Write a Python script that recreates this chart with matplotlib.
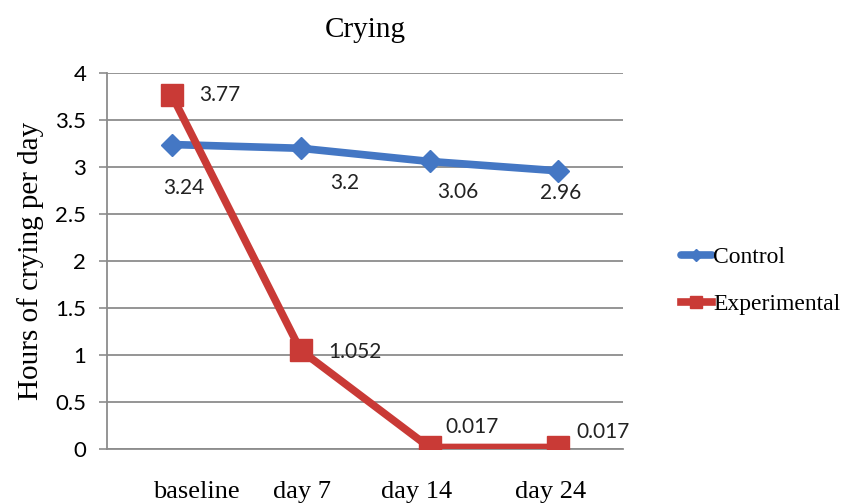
import numpy as np
import matplotlib.pyplot as plt
from matplotlib.transforms import ScaledTranslation

# data
days = ['baseline', 'day 7', 'day 14', 'day 24']
control = [3.24, 3.2, 3.06, 2.96]
experimental = [3.77, 1.052, 0.017, 0.017]
control_txt = ['3.24', '3.2', '3.06', '2.96']
experimental_txt = ['3.77', '1.052', '0.017', '0.017']

blue = '#4477c4'
red = '#c93a36'
grid = '#8c8c8c'
serif = 'Liberation Serif'
sans = 'Lato'

fig = plt.figure(figsize=(8.46, 5.04), dpi=100)
ax = fig.add_axes([0.1265, 0.109, 0.6099, 0.746])

x = np.arange(len(days))
ax.plot(x, control, color=blue, lw=5.5, marker='D', ms=11, label='Control',
        solid_capstyle='round', zorder=3)
ax.plot(x, experimental, color=red, lw=5.5, marker='s', ms=16, label='Experimental',
        zorder=4)

# data labels (offsets in pixels)
c_off = [(12, -43), (44, -35), (28, -31), (2, -22)]
e_off = [(48, 0), (54, -2), (43, 20), (45, 15)]
for i in range(len(days)):
    ax.annotate(control_txt[i], (x[i], control[i]), xytext=c_off[i],
                textcoords='offset pixels', ha='center', va='center',
                fontsize=15, family=sans, color='#222222', zorder=5)
    ax.annotate(experimental_txt[i], (x[i], experimental[i]), xytext=e_off[i],
                textcoords='offset pixels', ha='center', va='center',
                fontsize=15, family=sans, color='#222222', zorder=5)

ax.set_xlim(-0.5, 3.5)
ax.set_ylim(0, 4)
ax.set_yticks(np.arange(0, 4.01, 0.5))
ax.set_yticklabels(['0', '0.5', '1', '1.5', '2', '2.5', '3', '3.5', '4'],
                   family=sans, fontsize=16)
ax.set_xticks(x)
ax.set_xticklabels(days, family=serif, fontsize=19)
ax.tick_params(axis='x', length=0, pad=23)
ax.tick_params(axis='y', length=6, width=1.2, color=grid, pad=9)

# Excel places category labels a bit off the points
shifts = [25, 1, -13, -8]
for lab, s in zip(ax.get_xticklabels(), shifts):
    lab.set_transform(lab.get_transform() + ScaledTranslation(s / 100, 0, fig.dpi_scale_trans))

ax.grid(axis='y', color=grid, lw=1.3)
ax.set_axisbelow(True)
for s in ['top', 'right']:
    ax.spines[s].set_visible(False)
ax.spines['left'].set_color(grid)
ax.spines['left'].set_linewidth(1.3)
ax.spines['bottom'].set_color(grid)
ax.spines['bottom'].set_linewidth(1.3)

ax.set_ylabel('Hours of crying per day', family=serif, fontsize=21, labelpad=8)
ax.set_title('Crying', family=serif, fontsize=21, pad=26)

leg = fig.legend(loc='center left', bbox_to_anchor=(0.805, 0.4425), frameon=False,
                 prop={'family': serif, 'size': 17}, handlelength=1.3,
                 handletextpad=0.05, labelspacing=1.1, markerscale=0.55,
                 borderpad=0, borderaxespad=0)

fig.savefig('out.png', dpi=100)
